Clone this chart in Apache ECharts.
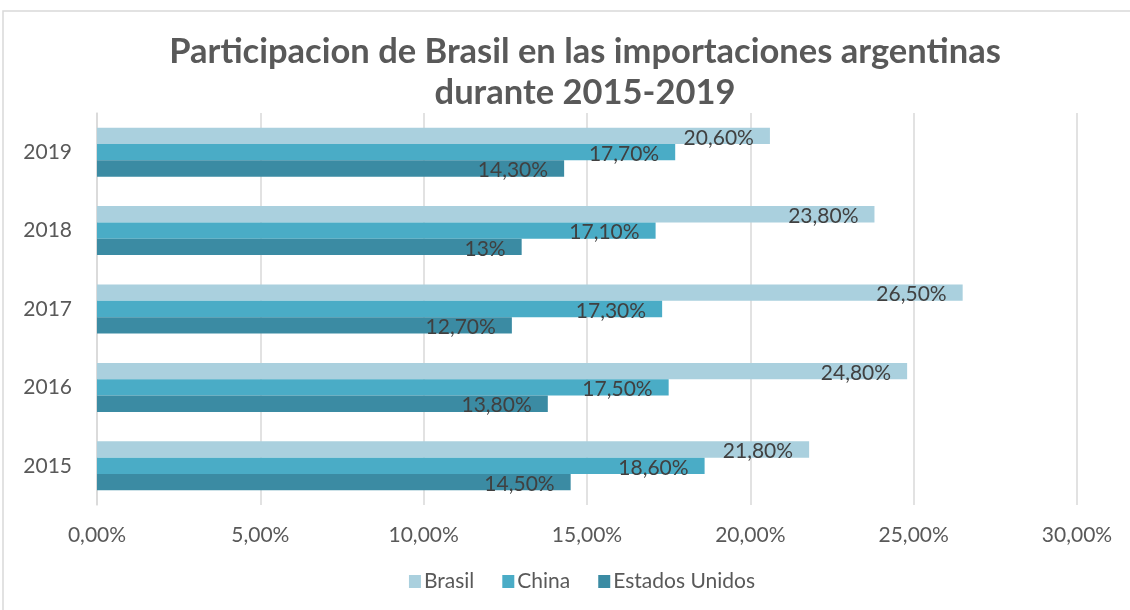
<!DOCTYPE html>
<html>
<head>
<meta charset="utf-8">
<script src="https://cdn.jsdelivr.net/npm/echarts@6/dist/echarts.min.js"></script>
<style>
  html, body { margin: 0; padding: 0; background: #fff; }
  #chart { width: 1130px; height: 610px; }
</style>
</head>
<body>
<div id="chart"></div>
<script>
const years = ['2015', '2016', '2017', '2018', '2019']
const brasil = [21.8, 24.8, 26.5, 23.8, 20.6]
const china = [18.6, 17.5, 17.3, 17.1, 17.7]
const estadosUnidos = [14.5, 13.8, 12.7, 13, 14.3]

const textColor = '#595959'
const fontFamily = 'Lato, "Open Sans", sans-serif'

// etiqueta de valor con coma decimal
function pct(v) {
  if (Number.isInteger(v)) return v + '%'
  return v.toFixed(2).replace('.', ',') + '%'
}

function barSeries(name, data, color) {
  return {
    name: name,
    type: 'bar',
    data: data,
    barGap: '0%',
    barCategoryGap: '37.5%',
    itemStyle: { color: color },
    label: {
      show: true,
      position: 'insideRight',
      distance: 16,
      offset: [0, 2],
      color: '#404040',
      fontSize: 21,
      fontFamily: fontFamily,
      formatter: p => pct(p.value)
    }
  }
}

const myChart = echarts.init(document.getElementById('chart'))
myChart.setOption({
  animation: false,
  title: {
    text: 'Participacion de Brasil en las importaciones argentinas\ndurante 2015-2019',
    left: 580,
    top: 26,
    textAlign: 'center',
    textStyle: {
      color: textColor,
      fontSize: 34.5,
      fontWeight: 'bold',
      fontFamily: fontFamily,
      lineHeight: 41
    }
  },
  graphic: [{
    type: 'rect',
    shape: { x: 3, y: 11, width: 1200, height: 700 },
    style: { fill: 'none', stroke: '#d9d9d9', lineWidth: 1.5 },
    z: -1
  }],
  legend: {
    data: ['Brasil', 'China', 'Estados Unidos'],
    left: 400,
    top: 566,
    itemWidth: 12,
    itemHeight: 13,
    itemGap: 28,
    icon: 'rect',
    textStyle: { color: textColor, fontSize: 21, fontFamily: fontFamily, padding: [0, 0, 0, -2] }
  },
  grid: { left: 97, right: 53, top: 113, bottom: 105 },
  xAxis: {
    type: 'value',
    min: 0,
    max: 30,
    interval: 5,
    axisLine: { show: false },
    axisTick: { show: false },
    splitLine: { lineStyle: { color: '#d9d9d9', width: 1.5 } },
    axisLabel: {
      color: textColor,
      fontSize: 21,
      fontFamily: fontFamily,
      margin: 20,
      formatter: v => v.toFixed(2).replace('.', ',') + '%'
    }
  },
  yAxis: {
    type: 'category',
    data: years,
    axisLine: { lineStyle: { color: '#d9d9d9', width: 1.5 } },
    axisTick: { show: false },
    axisLabel: { color: textColor, fontSize: 21, fontFamily: fontFamily, margin: 25 }
  },
  series: [
    barSeries('Brasil', brasil, '#aad0de'),
    barSeries('China', china, '#4aacc6'),
    barSeries('Estados Unidos', estadosUnidos, '#3b8ba3')
  ]
})
// centrar la leyenda alrededor de x=580
setTimeout(() => {
  const view = myChart._componentsViews.find(v => v && v.type === 'legend.plain')
  if (view) {
    const rect = view.group.getBoundingRect()
    myChart.setOption({ legend: { left: 582 - rect.width / 2 } })
  }
}, 0)
</script>
</body>
</html>
